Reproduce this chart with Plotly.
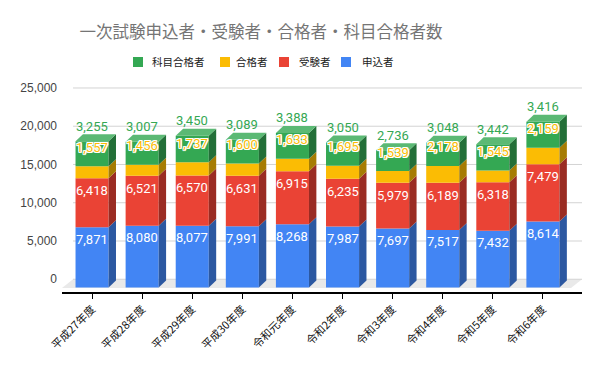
import plotly.graph_objects as go

categories = ["平成27年度", "平成28年度", "平成29年度", "平成30年度", "令和元年度",
              "令和2年度", "令和3年度", "令和4年度", "令和5年度", "令和6年度"]
applicants = [7871, 8080, 8077, 7991, 8268, 7987, 7697, 7517, 7432, 8614]   # 申込者
examinees = [6418, 6521, 6570, 6631, 6915, 6235, 5979, 6189, 6318, 7479]    # 受験者
passers = [1557, 1456, 1737, 1600, 1633, 1695, 1539, 2178, 1545, 2159]      # 合格者
subject_passers = [3255, 3007, 3450, 3089, 3388, 3050, 2736, 3048, 3442, 3416]  # 科目合格者
y_ticks = [0, 5000, 10000, 15000, 20000, 25000]

series = [
    ("申込者", applicants, "#4285F4", "#2C58A1"),
    ("受験者", examinees, "#EA4335", "#9A2C23"),
    ("合格者", passers, "#FBBC04", "#A67C03"),
    ("科目合格者", subject_passers, "#34A853", "#236F38"),
]
top_color = "#5BB974"

W, H = 600, 371
ML, MR, MT, MB = 62, 18, 60, 79
XR = [-0.6, 9.78]
YR = [-1666, 28656]
PW, PH = W - ML - MR, H - MT - MB
px_x = PW / (XR[1] - XR[0])
px_y = PH / (YR[1] - YR[0])


def paper_x(px):
    return (px - ML) / PW


def paper_y(py):
    return (H - MB - py) / PH


D_front = 8.25 / px_y     # front face drop below back plane
DX = 7.4 / px_x           # 3D depth (x)
DY = 7.0 / px_y           # 3D depth (y)
BW = 0.66

fig = go.Figure()
shapes = []
annotations = []

# floor
shapes.append(dict(type="path", xref="x", yref="y", layer="below",
                   path=f"M {XR[0]},{-1144} L {9.56},{-1144} L {XR[1]},0 L {-0.38},0 Z",
                   fillcolor="#E9E9E9", line=dict(width=0)))
# gridlines
for t in y_ticks:
    shapes.append(dict(type="line", xref="x", yref="y", layer="below",
                       x0=-0.38, x1=XR[1], y0=t, y1=t,
                       line=dict(color="#D3D3D3", width=1)))

n = len(categories)
cum = [0] * n
for name, vals, col, dark in series:
    bases = [c - D_front for c in cum]
    fig.add_trace(go.Bar(x=list(range(n)), y=vals, base=bases, width=BW, name=name,
                         marker=dict(color=col, line=dict(width=0)), hoverinfo="skip",
                         showlegend=False))
    for i in range(n):
        b = cum[i] - D_front
        t = cum[i] + vals[i] - D_front
        xr = i + BW / 2
        shapes.append(dict(type="path", xref="x", yref="y", layer="above",
                           path=f"M {xr},{b} L {xr + DX},{b + DY} L {xr + DX},{t + DY} L {xr},{t} Z",
                           fillcolor=dark, line=dict(width=0)))
    cum = [c + v for c, v in zip(cum, vals)]

# top faces
for i in range(n):
    t = cum[i] - D_front
    xl, xr = i - BW / 2, i + BW / 2
    shapes.append(dict(type="path", xref="x", yref="y", layer="above",
                       path=f"M {xl},{t} L {xl + DX},{t + DY} L {xr + DX},{t + DY} L {xr},{t} Z",
                       fillcolor=top_color, line=dict(width=0)))

# legend (drawn manually, reversed order)
legend_sq_px = [133, 220, 279, 341]
legend_txt_px = [150, 234, 297, 360]
for k, (name, vals, col, dark) in enumerate(reversed(series)):
    shapes.append(dict(type="rect", xref="paper", yref="paper",
                       x0=paper_x(legend_sq_px[k]), x1=paper_x(legend_sq_px[k] + 10),
                       y0=paper_y(67), y1=paper_y(57), fillcolor=col, line=dict(width=0)))
    annotations.append(dict(xref="paper", yref="paper", x=paper_x(legend_txt_px[k]), y=paper_y(62),
                            xanchor="left", yanchor="middle", text=name, showarrow=False,
                            font=dict(family="Noto Sans CJK JP", size=10.5, color="#222222")))

# data labels
lab_font = "Roboto"
c1 = list(applicants)
c2 = [a + b for a, b in zip(c1, examinees)]
c3 = [a + b for a, b in zip(c2, passers)]
c4 = [a + b for a, b in zip(c3, subject_passers)]
outline = ("-1px -1px 0 #fff, 1px -1px 0 #fff, -1px 1px 0 #fff, 1px 1px 0 #fff, "
           "0 1px 0 #fff, 0 -1px 0 #fff, 1px 0 0 #fff, -1px 0 0 #fff")
for i in range(n):
    annotations.append(dict(x=i, y=c1[i] - D_front, yshift=-12, text=f"{applicants[i]:,}",
                            showarrow=False, font=dict(family=lab_font, size=13, color="#FFFFFF")))
    annotations.append(dict(x=i, y=c2[i] - D_front, yshift=-12.5, text=f"{examinees[i]:,}",
                            showarrow=False, font=dict(family=lab_font, size=13, color="#FFFFFF")))
    annotations.append(dict(x=i, y=c3[i] - D_front, yshift=19, text=f"{passers[i]:,}",
                            showarrow=False, font=dict(family=lab_font, size=13, color="#FBBC04",
                                                       shadow=outline)))
    annotations.append(dict(x=i, y=c4[i] - D_front, yshift=15, text=f"{subject_passers[i]:,}",
                            showarrow=False, font=dict(family=lab_font, size=13, color="#34A853")))

fig.update_layout(
    width=W, height=H,
    margin=dict(l=ML, r=MR, t=MT, b=MB, autoexpand=False),
    paper_bgcolor="white", plot_bgcolor="rgba(0,0,0,0)",
    barmode="overlay", showlegend=False, hovermode=False,
    title=dict(text="一次試験申込者・受験者・合格者・科目合格者数", xref="container", yref="container",
               x=261 / W, xanchor="center", y=1 - 32 / H, yanchor="middle",
               font=dict(family="Noto Sans CJK JP", size=16.5, color="#757575")),
    xaxis=dict(range=XR, tickmode="array", tickvals=list(range(n)), ticktext=categories,
               tickangle=-45, ticks="outside", ticklen=5, tickcolor="#000000", automargin=False,
               showline=True, linecolor="#000000", linewidth=1.5, showgrid=False, zeroline=False,
               tickfont=dict(family="Noto Sans CJK JP", size=11, color="#111111")),
    yaxis=dict(range=YR, tickmode="array", tickvals=y_ticks, tickformat=",d", automargin=False,
               showgrid=False, zeroline=False, showline=False, ticks="",
               ticklabelstandoff=4,
               tickfont=dict(family="Liberation Sans", size=12, color="#444444")),
    shapes=shapes, annotations=annotations,
)

fig.write_html("out.html", config={"displayModeBar": False, "staticPlot": True},
               post_script="document.body.style.margin='0';document.body.style.overflow='hidden';")
